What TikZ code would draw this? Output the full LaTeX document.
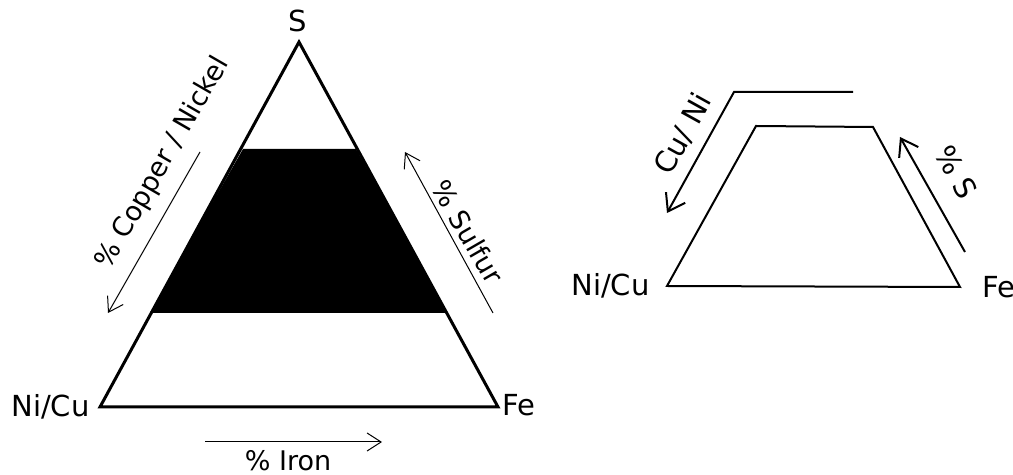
\documentclass[tikz,border=0pt]{standalone}
\usepackage{fontspec}
\setmainfont{DejaVu Sans}
\usetikzlibrary{arrows.meta,positioning,calc}
\tikzset{
	vertexlbl/.style={font=\fontsize{14.5}{17}\selectfont, inner sep=0pt},
	axislbl/.style={font=\fontsize{13.5}{16}\selectfont, inner sep=0pt},
	thinarr/.style={-{Straight Barb[length=7pt,width=9pt]}, line width=0.5pt},
	thickarr/.style={-{Straight Barb[length=8pt,width=11pt]}, line width=1pt},
	phaseline/.style={line width=1.5pt},
	trapline/.style={line width=1pt}
}

\begin{document}
\begin{tikzpicture}[x=0.5pt, y=-0.5pt]
			\useasboundingbox (0,0) rectangle (1013,475);
			% ternary triangle
			\coordinate (apexS) at (299,42);
			\coordinate (cornerNi) at (100,407);
			\coordinate (cornerFe) at (498,407);
			\fill[black] (243,149) -- (356,149) -- (447,313) -- (150,313) -- cycle;
			\draw[phaseline] (apexS) -- (cornerFe) -- (cornerNi) -- cycle;
			\node[vertexlbl, anchor=base] (lblS) at (298,32) {S};
			\node[vertexlbl, anchor=base east] (lblNi) at (90,417) {Ni/Cu};
			\node[vertexlbl, anchor=base west] (lblFe) at (502,416) {Fe};
			% axis arrows
			\coordinate (cuTop) at (200,152);
			\coordinate (cuBot) at (108,313);
			\coordinate (sBot) at (493,313);
			\coordinate (sTop) at (405,152);
			\coordinate (feLeft) at (205,442);
			\coordinate (feRight) at (382,442);
			\draw[thinarr] (cuTop) -- (cuBot);
			\draw[thinarr] (sBot) -- (sTop);
			\draw[thinarr] (feLeft) -- (feRight);
			\node[axislbl, rotate=60] (lblCu) at (163,163) {\% Copper / Nickel};
			\node[axislbl, rotate=-60] (lblSul) at (468,232) {\% Sulfur};
			\node[axislbl] (lblIron) at (288,461) {\% Iron};
			% simplified trapezoid
			\coordinate (trBL) at (667,286);
			\coordinate (trBR) at (960,287);
			\coordinate (trTR) at (873,127);
			\coordinate (trTL) at (756,126);
			\draw[trapline] (trBL) -- (trTL) -- (trTR) -- (trBR) -- cycle;
			\node[vertexlbl, anchor=base east] (lblNi2) at (650,296) {Ni/Cu};
			\node[vertexlbl, anchor=base west] (lblFe2) at (982,298) {Fe};
			\coordinate (cnEnd) at (853,92);
			\coordinate (cnBend) at (734,92);
			\coordinate (cnTip) at (667,213);
			\coordinate (sfBot) at (965,252);
			\coordinate (sfTip) at (900,137);
			\draw[thickarr] (cnEnd) -- (cnBend) -- (cnTip);
			\draw[thickarr] (sfBot) -- (sfTip);
			\node[axislbl, font=\fontsize{14.5}{17}\selectfont, rotate=61] (lblCuNi) at (683,134) {Cu/ Ni};
			\node[axislbl, font=\fontsize{14.5}{17}\selectfont, rotate=-60] (lblS2) at (956,172) {\% S};
		\end{tikzpicture}
\end{document}
